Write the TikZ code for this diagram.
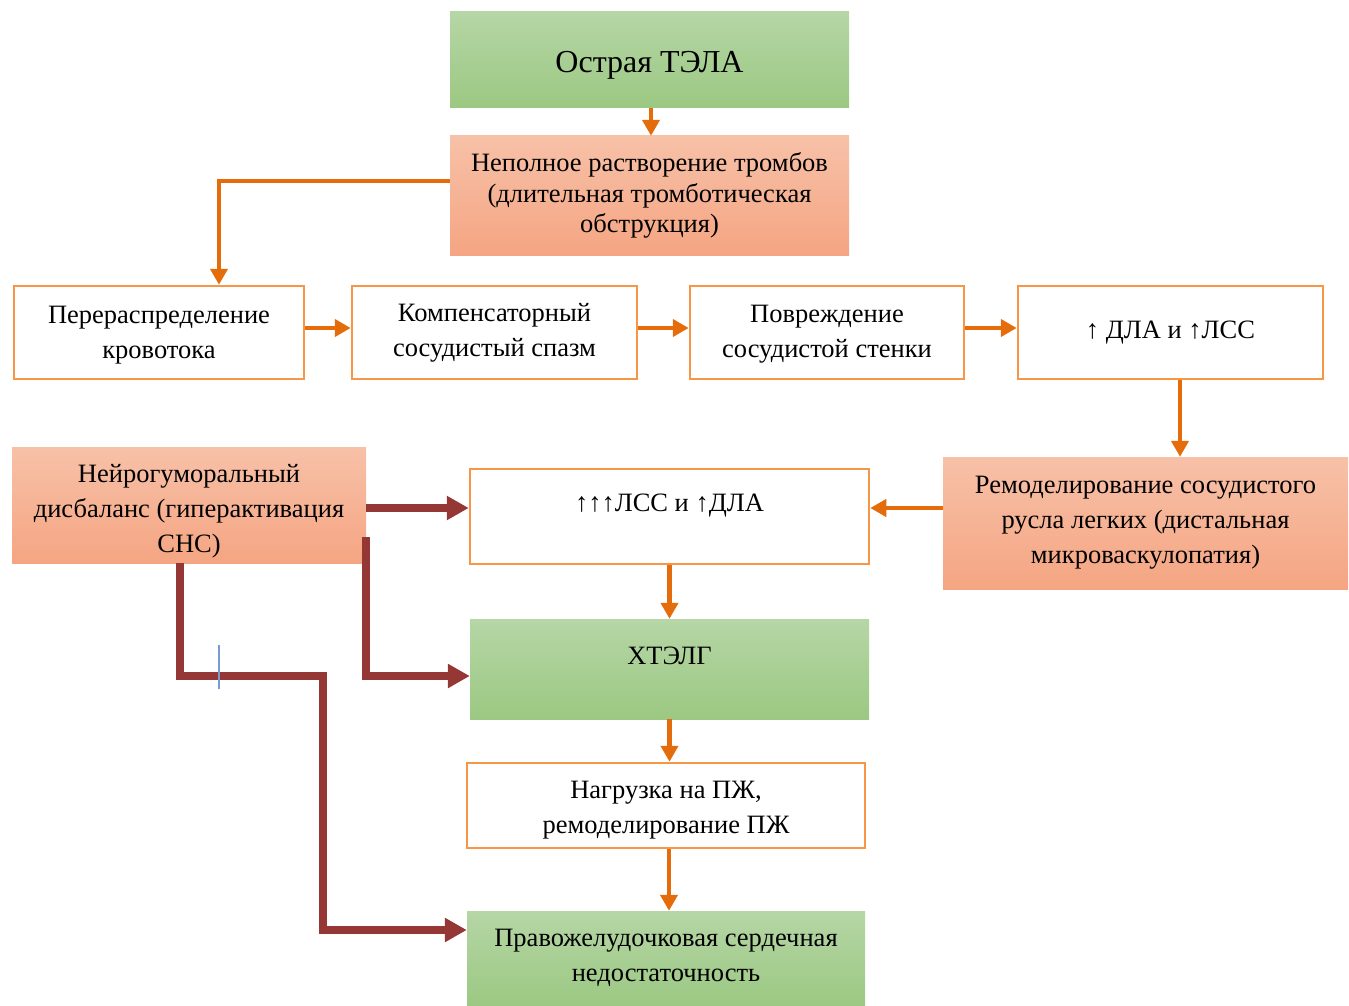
\documentclass[tikz,border=0pt]{standalone}
\usepackage{fontspec}
\setmainfont{Liberation Serif}
\usetikzlibrary{arrows.meta}
\definecolor{arrOr}{RGB}{228,108,10}
\definecolor{brdOr}{RGB}{247,150,70}
\definecolor{arrRd}{RGB}{149,55,53}
\definecolor{grTop}{RGB}{182,214,166}
\definecolor{grBot}{RGB}{155,200,130}
\definecolor{saTop}{RGB}{247,193,168}
\definecolor{saBot}{RGB}{245,165,130}
\definecolor{curs}{RGB}{120,155,210}
\tikzset{
  greenbox/.style={rectangle, inner sep=0pt, top color=grTop, bottom color=grBot, draw=none, align=center},
  salmonbox/.style={rectangle, inner sep=0pt, top color=saTop, bottom color=saBot, draw=none, align=center},
  whitebox/.style={rectangle, inner sep=0pt, fill=white, draw=brdOr, line width=2.5pt, align=center},
  txt/.style={font=\fontsize{26.5}{35}\selectfont, align=center},
  txtb/.style={font=\fontsize{26.5}{30.5}\selectfont},
  oarr/.style={draw=arrOr, line width=4.5pt, -{Triangle[width=17pt,length=16pt]}},
  rarr/.style={draw=arrRd, line width=7.5pt, -{Triangle[width=23pt,length=22pt]}},
}
\begin{document}
\begin{tikzpicture}[x=1pt,y=-1pt]
\useasboundingbox (0,0) rectangle (1349,1006);
\node[greenbox, minimum width=399pt, minimum height=96pt] (T) at (649.5,60) {};
\node[font=\fontsize{32}{38}\selectfont, inner sep=0pt] (Tt) at (649.5,65) {Острая ТЭЛА};
\node[salmonbox, minimum width=399pt, minimum height=119pt, txtb] (B2) at (649.5,195.5) {Неполное растворение тромбов\\(длительная тромботическая\\обструкция)};
\node[whitebox, minimum width=290pt, minimum height=93pt] (A) at (159,332.5) {};
\node[txt, inner sep=0pt] (At) at (159,335) {Перераспределение\\кровотока};
\node[whitebox, minimum width=285pt, minimum height=93pt, txt] (B) at (494.5,332.5) {Компенсаторный\\сосудистый спазм};
\node[whitebox, minimum width=274pt, minimum height=93pt] (C) at (827,332.5) {};
\node[txt, inner sep=0pt] (Ct) at (827,334.5) {Повреждение\\сосудистой стенки};
\node[whitebox, minimum width=305pt, minimum height=93pt, txt] (D) at (1170.5,332.5) {↑ ДЛА и ↑ЛСС};
\node[salmonbox, minimum width=405pt, minimum height=132pt, txt] (R) at (1145.5,523) {Ремоделирование сосудистого\\русла легких (дистальная\\микроваскулопатия)};
\node[salmonbox, minimum width=354pt, minimum height=116pt] (N) at (189,505) {};
\node[txt, inner sep=0pt] (Nt) at (189,511) {Нейрогуморальный\\дисбаланс (гиперактивация\\СНС)};
\node[whitebox, minimum width=399pt, minimum height=95pt] (M) at (669.5,516.5) {};
\node[txt, inner sep=0pt] (Mt) at (669.5,506) {↑↑↑ЛСС и ↑ДЛА};
\node[greenbox, minimum width=399pt, minimum height=100pt] (X) at (669.5,669) {};
\node[txt, inner sep=0pt] (Xt) at (669.5,656) {ХТЭЛГ};
\node[whitebox, minimum width=398pt, minimum height=85pt] (L) at (666,805.5) {};
\node[txt, inner sep=0pt] (Lt) at (666,810) {Нагрузка на ПЖ,\\ремоделирование ПЖ};
\node[greenbox, minimum width=398pt, minimum height=95pt] (F) at (666,958.5) {};
\node[txt, inner sep=0pt] (Ft) at (666,958) {Правожелудочковая сердечная\\недостаточность};
% orange connectors
\draw[oarr] ([xshift=1.5pt]T.south) -- ([xshift=1.5pt]B2.north);
\draw[oarr] ([yshift=14.5pt]B2.west) -| ([xshift=60pt]A.north);
\draw[oarr] ([yshift=4.5pt]A.east) -- ([yshift=4.5pt]B.west);
\draw[oarr] ([yshift=4.5pt]B.east) -- ([yshift=4.5pt]C.west);
\draw[oarr] ([yshift=4.5pt]C.east) -- ([yshift=4.5pt]D.west);
\draw[oarr] ([xshift=9.5pt]D.south) -- ([xshift=9.5pt]D.south |- R.north);
\draw[oarr] ([yshift=15pt]R.west) -- ([yshift=15pt]R.west -| M.east);
\draw[oarr] (M.south) -- (X.north);
\draw[oarr] (X.south) -- (X.south |- L.north);
\draw[oarr] ([xshift=3pt]L.south) -- ([xshift=3pt]L.south |- F.north);
% dark red connectors
\coordinate (t1) at (323,676);
\draw[rarr] ([yshift=-3pt]N.east) -- ([yshift=-3pt]N.east -| M.west);
\draw[rarr] ([yshift=-32pt]N.east) |- ([yshift=-7pt]X.west);
\draw[rarr] ([xshift=-9pt]N.south) |- (t1) |- ([yshift=28.5pt]F.west);
% cursor mark
\coordinate (c1) at (219,645);
\coordinate (c2) at (219,689);
\draw[curs, line width=1.5pt] (c1) -- (c2);
\end{tikzpicture}
\end{document}
